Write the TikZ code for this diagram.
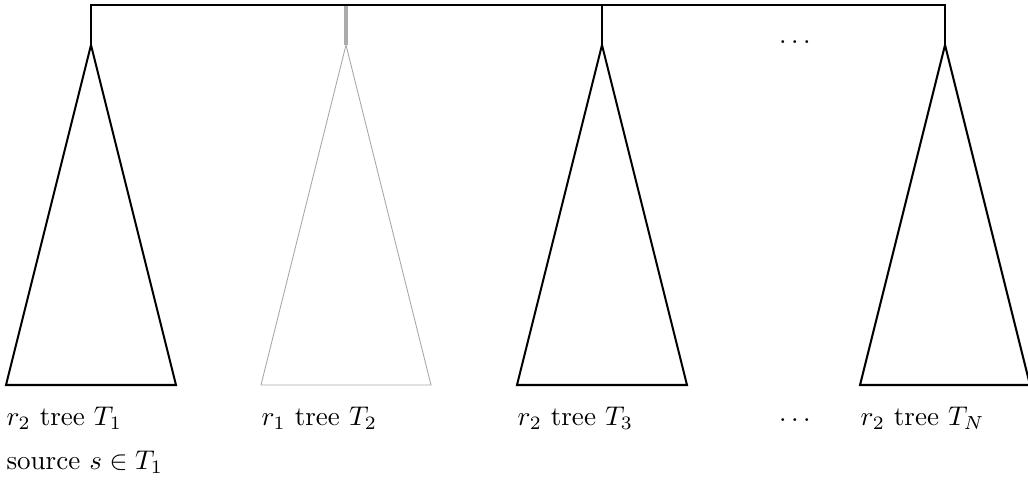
\documentclass[tikz,border=0pt]{standalone}
\begin{document}
\begin{tikzpicture}[x=0.013cm,y=-0.013cm,
  tri/.style={draw=black,line width=0.75pt,line join=miter},
  gtri/.style={draw=black!33,line width=0.35pt},
  link/.style={draw=black,line width=0.75pt},
  glink/.style={draw=black!33,line width=1.8pt},
  lbl/.style={anchor=base west,inner sep=0pt}]
\useasboundingbox (0,0) rectangle (1028,482);
\coordinate (atop) at (91,5);   \coordinate (aapex) at (91,45);
\coordinate (aL) at (6,385);    \coordinate (aR) at (176,385);
\coordinate (btop) at (346,5);  \coordinate (bapex) at (346,45);
\coordinate (bL) at (261,385);  \coordinate (bR) at (431,385);
\coordinate (ctop) at (602,5);  \coordinate (capex) at (602,45);
\coordinate (cL) at (517,385);  \coordinate (cR) at (687,385);
\coordinate (dtop) at (945,5);  \coordinate (dapex) at (945,45);
\coordinate (dL) at (860,385);  \coordinate (dR) at (1030,385);
\draw[tri] (aapex) -- (aL) -- (aR) -- cycle;
\draw[gtri] (bapex) -- (bL) -- (bR) -- cycle;
\draw[tri] (capex) -- (cL) -- (cR) -- cycle;
\draw[tri] (dapex) -- (dL) -- (dR) -- cycle;
\draw[glink] (btop) -- (bapex);
\draw[link] (aapex) -- (atop) -- (dtop) -- (dapex);
\draw[link] (ctop) -- (capex);
\node (topdots) at (795,42) {$\dots$};
\node[lbl] (l1) at (6,425) {$r_2$ tree $T_1$};
\node[lbl] (l2) at (261,425) {$r_1$ tree $T_2$};
\node[lbl] (l3) at (517,425) {$r_2$ tree $T_3$};
\node (ldots) at (795,420) {$\dots$};
\node[lbl] (l4) at (860,425) {$r_2$ tree $T_N$};
\node[lbl] (src) at (6,469) {source $s\in T_1$};
\end{tikzpicture}
\end{document}
